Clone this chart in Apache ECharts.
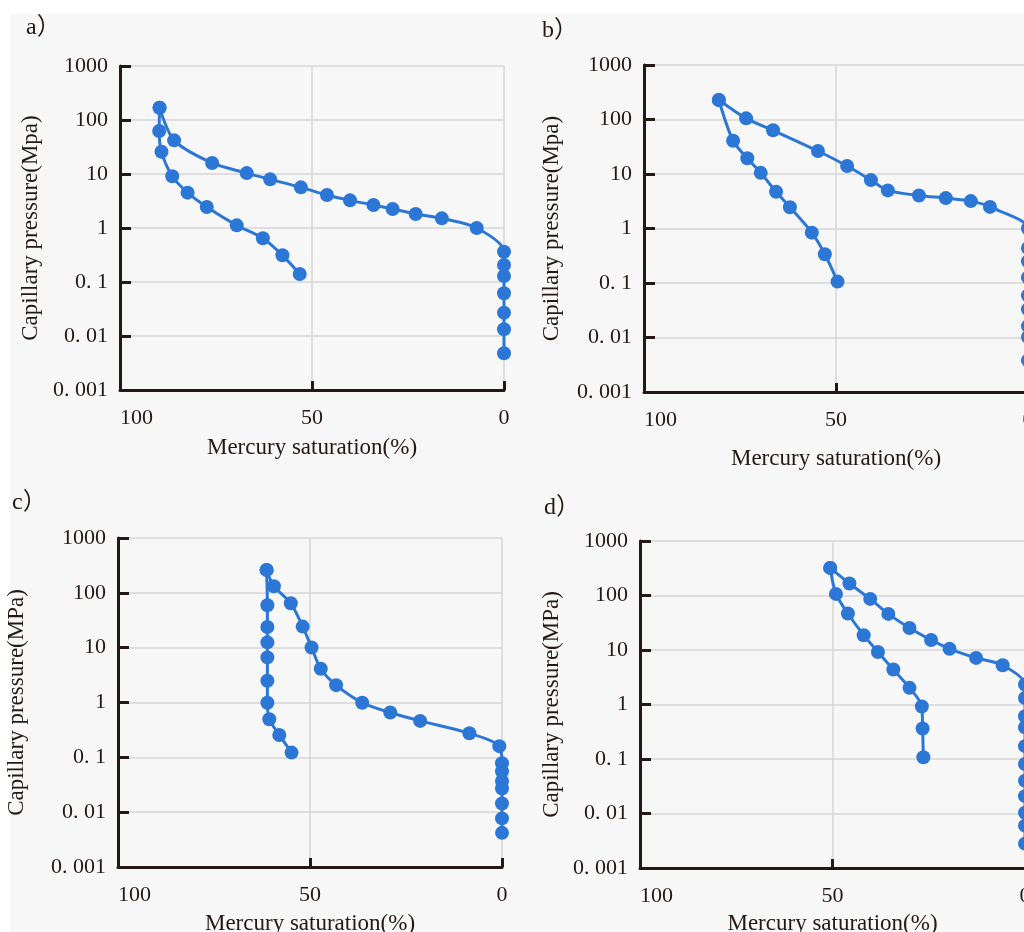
<!DOCTYPE html>
<html>
<head>
<meta charset="utf-8">
<script src="https://cdn.jsdelivr.net/npm/echarts@6/dist/echarts.min.js"></script>
<style>
  html, body { margin: 0; padding: 0; background: #fff; }
  #chart { width: 1024px; height: 932px; }
</style>
</head>
<body>
<div id="chart"></div>
<script>
// tick labels of the log pressure axis, 0.001 .. 1000
var yTickLabels = ['0. 001', '0. 01', '0. 1', '1', '10', '100', '1000'];
var panelLabels = ['a）', 'b）', 'c）', 'd）'];
var yNames = ['Capillary pressure(Mpa)', 'Capillary pressure(Mpa)', 'Capillary pressure(MPa)', 'Capillary pressure(MPa)'];
var xName = 'Mercury saturation(%)';

// a) injection (low -> high pressure) and withdrawal (high -> low)
var aInjSat = [0, 0, 0, 0, 0, 0, 0, 7.1, 16.2, 23.0, 29.0, 34.0, 40.1, 46.1, 52.9, 60.9, 67.0, 76.0, 85.9, 89.7];
var aInjP   = [0.0048, 0.0133, 0.027, 0.062, 0.129, 0.207, 0.364, 1.0, 1.51, 1.82, 2.25, 2.67, 3.25, 4.08, 5.66, 7.96, 10.4, 16.0, 42, 169];
var aWdrSat = [89.7, 89.8, 89.2, 86.4, 82.4, 77.4, 69.6, 62.8, 57.7, 53.2];
var aWdrP   = [169, 62.5, 25.9, 9.06, 4.51, 2.45, 1.12, 0.644, 0.312, 0.141];

// b)
var bInjSat = [0, 0, 0, 0, 0, 0, 0, 0, 0, 9.9, 14.9, 21.4, 28.4, 36.5, 40.9, 47.1, 54.7, 66.4, 73.4, 80.5];
var bInjP   = [0.0038, 0.0102, 0.0162, 0.033, 0.059, 0.126, 0.25, 0.44, 1.0, 2.49, 3.18, 3.61, 4.04, 5.0, 7.73, 14.0, 26.4, 63.3, 105, 228];
var bWdrSat = [80.5, 76.8, 73.1, 69.6, 65.6, 62.0, 56.3, 52.9, 49.6];
var bWdrP   = [228, 40.7, 19.4, 10.5, 4.71, 2.46, 0.84, 0.337, 0.106];

// c)
var cInjSat = [0, 0, 0, 0, 0, 0, 0, 0.7, 8.5, 21.3, 29.1, 36.4, 43.2, 47.2, 49.6, 51.9, 55.0, 59.4, 61.3];
var cInjP   = [0.0042, 0.0077, 0.0144, 0.027, 0.037, 0.055, 0.078, 0.16, 0.275, 0.462, 0.656, 0.99, 2.07, 4.13, 10.1, 24.2, 64.5, 132, 262];
var cWdrSat = [61.3, 61.1, 61.1, 61.1, 61.1, 61.1, 61.1, 60.6, 58.0, 54.8];
var cWdrP   = [262, 59.3, 23.8, 12.5, 6.65, 2.49, 0.99, 0.495, 0.256, 0.122];

// d)
var dInjSat = [0, 0, 0, 0, 0, 0, 0, 0, 0, 0, 0, 5.8, 12.7, 19.6, 24.4, 30.0, 35.5, 40.2, 45.6, 50.6];
var dInjP   = [0.0028, 0.006, 0.0103, 0.0208, 0.040, 0.081, 0.172, 0.38, 0.61, 1.32, 2.33, 5.26, 7.16, 10.5, 15.3, 25.4, 46, 86.7, 166, 321];
var dWdrSat = [50.6, 49.1, 46.0, 41.9, 38.2, 34.2, 30.0, 26.8, 26.6, 26.4];
var dWdrP   = [321, 107, 46.8, 18.7, 9.2, 4.39, 2.02, 0.92, 0.363, 0.108];

var injSat = [aInjSat, bInjSat, cInjSat, dInjSat];
var injP = [aInjP, bInjP, cInjP, dInjP];
var wdrSat = [aWdrSat, bWdrSat, cWdrSat, dWdrSat];
var wdrP = [aWdrP, bWdrP, cWdrP, dWdrP];

var FONT = '"Liberation Serif", "Noto Sans CJK SC", serif';
var INK = '#231815';
var BLUE = '#2c77d6';
var GRIDC = '#d6d6d6';

var grids = [
    {left: 120, top: 66, width: 384, height: 324, outerBoundsMode: 'none'},
    {left: 644, top: 65, width: 384, height: 327, outerBoundsMode: 'none'},
    {left: 118, top: 538, width: 384, height: 329, outerBoundsMode: 'none'},
    {left: 640, top: 541, width: 385, height: 327, outerBoundsMode: 'none'}
];
var xNameGaps = [46, 55, 45, 44];
var yNameGaps = [78, 81, 90, 77];
var labelPos = [[26, 16], [542, 19], [12, 491], [544, 496]];

function pairs(xs, ys) {
    var out = [];
    for (var i = 0; i < xs.length; i++) out.push([xs[i], ys[i]]);
    return out;
}

var xAxes = [], yAxes = [], series = [], graphics = [];

graphics.push({type: 'rect', left: 10, top: 14, shape: {width: 1014, height: 918}, style: {fill: '#f7f7f7'}, z: -10});

for (var i = 0; i < 4; i++) {
    xAxes.push({
        gridIndex: i, type: 'value', inverse: true, min: 0, max: 100, interval: 50,
        name: xName, nameLocation: 'middle', nameGap: xNameGaps[i],
        nameTextStyle: {fontFamily: FONT, fontSize: 23, color: INK},
        axisLine: {onZero: false, lineStyle: {color: INK, width: 3}},
        axisTick: {inside: true, length: 9, lineStyle: {color: INK, width: 3}},
        axisLabel: {fontFamily: FONT, fontSize: 22, color: INK, margin: 17, alignMaxLabel: 'left'},
        splitLine: {show: true, lineStyle: {color: GRIDC, width: 1.5}}
    });
    yAxes.push({
        gridIndex: i, type: 'log', logBase: 10, min: 0.001, max: 1000, position: 'left',
        name: yNames[i], nameLocation: 'middle', nameGap: yNameGaps[i],
        nameTextStyle: {fontFamily: FONT, fontSize: 23, color: INK},
        axisLine: {onZero: false, lineStyle: {color: INK, width: 3}},
        axisTick: {inside: true, length: 11, lineStyle: {color: INK, width: 3}},
        axisLabel: {
            fontFamily: FONT, fontSize: 22, color: INK, margin: 12,
            formatter: function (v) { return yTickLabels[Math.round(Math.log10(v)) + 3]; }
        },
        splitLine: {show: true, lineStyle: {color: GRIDC, width: 1.5}}
    });
    var common = {
        type: 'line', xAxisIndex: i, yAxisIndex: i, smooth: 0.3,
        symbol: 'circle', symbolSize: 14, clip: false,
        lineStyle: {color: BLUE, width: 3}, itemStyle: {color: BLUE},
        emphasis: {disabled: true}
    };
    series.push(Object.assign({name: 'injection ' + i, data: pairs(injSat[i], injP[i])}, common));
    series.push(Object.assign({name: 'withdrawal ' + i, data: pairs(wdrSat[i], wdrP[i])}, common));
    graphics.push({
        type: 'text', left: labelPos[i][0], top: labelPos[i][1],
        style: {text: panelLabels[i], font: '24px ' + FONT, fill: INK}
    });
}

var chart = echarts.init(document.getElementById('chart'));
chart.setOption({
    animation: false,
    backgroundColor: '#ffffff',
    grid: grids,
    xAxis: xAxes,
    yAxis: yAxes,
    series: series,
    graphic: graphics
});
</script>
</body>
</html>
